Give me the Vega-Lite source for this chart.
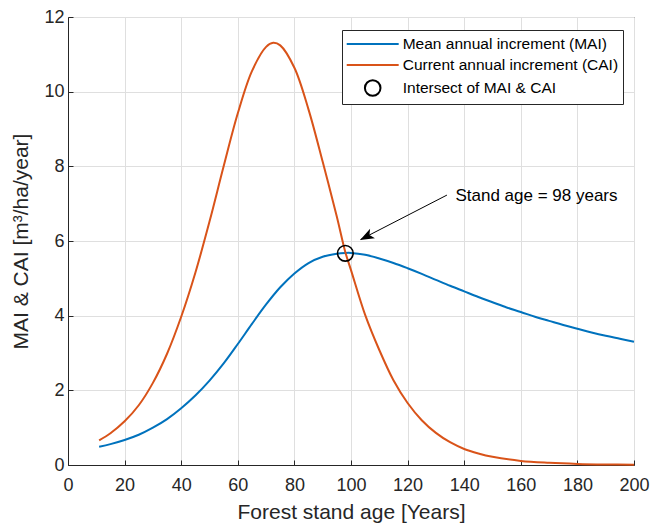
{
  "$schema": "https://vega.github.io/schema/vega-lite/v6.json",
  "width": 566,
  "height": 448,
  "autosize": {"type": "none"},
  "padding": {"left": 68, "top": 17, "right": 18, "bottom": 58},
  "background": "white",
  "config": {
    "font": "Liberation Sans",
    "view": {"stroke": "#262626", "strokeWidth": 1},
    "axis": {
      "domainColor": "#262626",
      "tickColor": "#262626",
      "tickSize": -5,
      "gridColor": "#dfdfdf",
      "labelColor": "#262626",
      "titleColor": "#262626",
      "labelFontSize": 18,
      "titleFontSize": 21,
      "titleFontWeight": "normal",
      "labelFont": "Liberation Sans",
      "titleFont": "Liberation Sans",
      "labelFlush": false
    }
  },
  "datasets": {
    "curves": [
      {"age": 11, "value": 0.49, "series": "Mean annual increment (MAI)"},
      {"age": 15, "value": 0.56, "series": "Mean annual increment (MAI)"},
      {"age": 20, "value": 0.67, "series": "Mean annual increment (MAI)"},
      {"age": 25, "value": 0.81, "series": "Mean annual increment (MAI)"},
      {"age": 30, "value": 1.0, "series": "Mean annual increment (MAI)"},
      {"age": 35, "value": 1.23, "series": "Mean annual increment (MAI)"},
      {"age": 40, "value": 1.52, "series": "Mean annual increment (MAI)"},
      {"age": 45, "value": 1.86, "series": "Mean annual increment (MAI)"},
      {"age": 50, "value": 2.26, "series": "Mean annual increment (MAI)"},
      {"age": 55, "value": 2.72, "series": "Mean annual increment (MAI)"},
      {"age": 60, "value": 3.24, "series": "Mean annual increment (MAI)"},
      {"age": 65, "value": 3.78, "series": "Mean annual increment (MAI)"},
      {"age": 70, "value": 4.3, "series": "Mean annual increment (MAI)"},
      {"age": 75, "value": 4.76, "series": "Mean annual increment (MAI)"},
      {"age": 80, "value": 5.13, "series": "Mean annual increment (MAI)"},
      {"age": 85, "value": 5.41, "series": "Mean annual increment (MAI)"},
      {"age": 90, "value": 5.58, "series": "Mean annual increment (MAI)"},
      {"age": 95, "value": 5.66, "series": "Mean annual increment (MAI)"},
      {"age": 98, "value": 5.68, "series": "Mean annual increment (MAI)"},
      {"age": 100, "value": 5.68, "series": "Mean annual increment (MAI)"},
      {"age": 105, "value": 5.63, "series": "Mean annual increment (MAI)"},
      {"age": 110, "value": 5.53, "series": "Mean annual increment (MAI)"},
      {"age": 115, "value": 5.41, "series": "Mean annual increment (MAI)"},
      {"age": 120, "value": 5.27, "series": "Mean annual increment (MAI)"},
      {"age": 125, "value": 5.12, "series": "Mean annual increment (MAI)"},
      {"age": 130, "value": 4.96, "series": "Mean annual increment (MAI)"},
      {"age": 135, "value": 4.8, "series": "Mean annual increment (MAI)"},
      {"age": 140, "value": 4.65, "series": "Mean annual increment (MAI)"},
      {"age": 145, "value": 4.5, "series": "Mean annual increment (MAI)"},
      {"age": 150, "value": 4.36, "series": "Mean annual increment (MAI)"},
      {"age": 155, "value": 4.22, "series": "Mean annual increment (MAI)"},
      {"age": 160, "value": 4.1, "series": "Mean annual increment (MAI)"},
      {"age": 165, "value": 3.97, "series": "Mean annual increment (MAI)"},
      {"age": 170, "value": 3.86, "series": "Mean annual increment (MAI)"},
      {"age": 175, "value": 3.75, "series": "Mean annual increment (MAI)"},
      {"age": 180, "value": 3.65, "series": "Mean annual increment (MAI)"},
      {"age": 185, "value": 3.55, "series": "Mean annual increment (MAI)"},
      {"age": 190, "value": 3.46, "series": "Mean annual increment (MAI)"},
      {"age": 195, "value": 3.38, "series": "Mean annual increment (MAI)"},
      {"age": 200, "value": 3.3, "series": "Mean annual increment (MAI)"},
      {"age": 11, "value": 0.66, "series": "Current annual increment (CAI)"},
      {"age": 15, "value": 0.85, "series": "Current annual increment (CAI)"},
      {"age": 20, "value": 1.17, "series": "Current annual increment (CAI)"},
      {"age": 25, "value": 1.6, "series": "Current annual increment (CAI)"},
      {"age": 30, "value": 2.2, "series": "Current annual increment (CAI)"},
      {"age": 35, "value": 2.98, "series": "Current annual increment (CAI)"},
      {"age": 40, "value": 3.97, "series": "Current annual increment (CAI)"},
      {"age": 45, "value": 5.15, "series": "Current annual increment (CAI)"},
      {"age": 50, "value": 6.52, "series": "Current annual increment (CAI)"},
      {"age": 55, "value": 8.0, "series": "Current annual increment (CAI)"},
      {"age": 60, "value": 9.42, "series": "Current annual increment (CAI)"},
      {"age": 65, "value": 10.55, "series": "Current annual increment (CAI)"},
      {"age": 70, "value": 11.2, "series": "Current annual increment (CAI)"},
      {"age": 72.5, "value": 11.31, "series": "Current annual increment (CAI)"},
      {"age": 75, "value": 11.24, "series": "Current annual increment (CAI)"},
      {"age": 80, "value": 10.64, "series": "Current annual increment (CAI)"},
      {"age": 85, "value": 9.52, "series": "Current annual increment (CAI)"},
      {"age": 90, "value": 8.12, "series": "Current annual increment (CAI)"},
      {"age": 95, "value": 6.65, "series": "Current annual increment (CAI)"},
      {"age": 98, "value": 5.7, "series": "Current annual increment (CAI)"},
      {"age": 100, "value": 5.22, "series": "Current annual increment (CAI)"},
      {"age": 105, "value": 4.02, "series": "Current annual increment (CAI)"},
      {"age": 110, "value": 3.08, "series": "Current annual increment (CAI)"},
      {"age": 115, "value": 2.27, "series": "Current annual increment (CAI)"},
      {"age": 120, "value": 1.66, "series": "Current annual increment (CAI)"},
      {"age": 125, "value": 1.2, "series": "Current annual increment (CAI)"},
      {"age": 130, "value": 0.86, "series": "Current annual increment (CAI)"},
      {"age": 135, "value": 0.61, "series": "Current annual increment (CAI)"},
      {"age": 140, "value": 0.43, "series": "Current annual increment (CAI)"},
      {"age": 145, "value": 0.31, "series": "Current annual increment (CAI)"},
      {"age": 150, "value": 0.22, "series": "Current annual increment (CAI)"},
      {"age": 160, "value": 0.11, "series": "Current annual increment (CAI)"},
      {"age": 170, "value": 0.06, "series": "Current annual increment (CAI)"},
      {"age": 180, "value": 0.03, "series": "Current annual increment (CAI)"},
      {"age": 190, "value": 0.015, "series": "Current annual increment (CAI)"},
      {"age": 200, "value": 0.008, "series": "Current annual increment (CAI)"}
    ],
    "intersect": [
      {"age": 98, "value": 5.67, "series": "Intersect of MAI & CAI"}
    ],
    "arrow": [
      {"age": 133.9, "value": 7.23, "age2": 103.4, "value2": 6.04}
    ],
    "arrowhead": [
      {"age": 103.2, "value": 6.03}
    ],
    "note": [
      {"age": 136.9, "value": 7.2, "label": "Stand age = 98 years"}
    ]
  },
  "encoding": {
    "x": {
      "field": "age",
      "type": "quantitative",
      "scale": {"domain": [0, 200], "nice": false, "zero": false},
      "axis": {
        "title": "Forest stand age [Years]",
        "values": [0, 20, 40, 60, 80, 100, 120, 140, 160, 180, 200],
        "labelPadding": 16,
        "titlePadding": 7
      }
    },
    "y": {
      "field": "value",
      "type": "quantitative",
      "scale": {"domain": [0, 12], "nice": false},
      "axis": {
        "title": "MAI & CAI [m³/ha/year]",
        "values": [0, 2, 4, 6, 8, 10, 12],
        "labelPadding": 9,
        "titlePadding": 12
      }
    }
  },
  "layer": [
    {
      "data": {"name": "curves"},
      "mark": {"type": "line", "strokeWidth": 2, "interpolate": "catmull-rom"},
      "encoding": {
        "color": {
          "field": "series",
          "type": "nominal",
          "scale": {
            "domain": ["Mean annual increment (MAI)", "Current annual increment (CAI)", "Intersect of MAI & CAI"],
            "range": ["#0072BD", "#D95319", "#000000"]
          },
          "legend": {
            "orient": "none",
            "legendX": 274,
            "legendY": 13,
            "title": null,
            "fillColor": "white",
            "strokeColor": "#262626",
            "padding": 4,
            "labelFontSize": 15.5,
            "labelColor": "#000000",
            "labelFont": "Liberation Sans",
            "symbolSize": 300,
            "symbolStrokeWidth": 2,
            "symbolOffset": 16.7,
            "labelOffset": 20,
            "rowPadding": 2,
            "labelLimit": 400
          }
        }
      }
    },
    {
      "data": {"name": "intersect"},
      "mark": {"type": "point", "filled": false, "size": 300, "strokeWidth": 1.6, "opacity": 1},
      "encoding": {
        "color": {
          "field": "series",
          "type": "nominal",
          "scale": {
            "domain": ["Mean annual increment (MAI)", "Current annual increment (CAI)", "Intersect of MAI & CAI"],
            "range": ["#0072BD", "#D95319", "#000000"]
          }
        },
        "shape": {
          "field": "series",
          "type": "nominal",
          "scale": {
            "domain": ["Mean annual increment (MAI)", "Current annual increment (CAI)", "Intersect of MAI & CAI"],
            "range": ["M-3,0L3,0", "M-3,0L3,0", "M0.9,0A0.9,0.9,0,1,1,-0.9,0A0.9,0.9,0,1,1,0.9,0Z"]
          }
        }
      }
    },
    {
      "data": {"name": "arrow"},
      "mark": {"type": "rule", "color": "#000000", "strokeWidth": 1},
      "encoding": {
        "x2": {"field": "age2"},
        "y2": {"field": "value2"}
      }
    },
    {
      "data": {"name": "arrowhead"},
      "mark": {
        "type": "point",
        "filled": true,
        "color": "#000000",
        "opacity": 1,
        "size": 784,
        "angle": 243,
        "shape": "M0,0L-0.38,1L0,0.75L0.38,1Z"
      },
      "encoding": {}
    },
    {
      "data": {"name": "note"},
      "mark": {"type": "text", "align": "left", "baseline": "middle", "fontSize": 17, "color": "#000000", "font": "Liberation Sans"},
      "encoding": {
        "text": {"field": "label"}
      }
    }
  ]
}
